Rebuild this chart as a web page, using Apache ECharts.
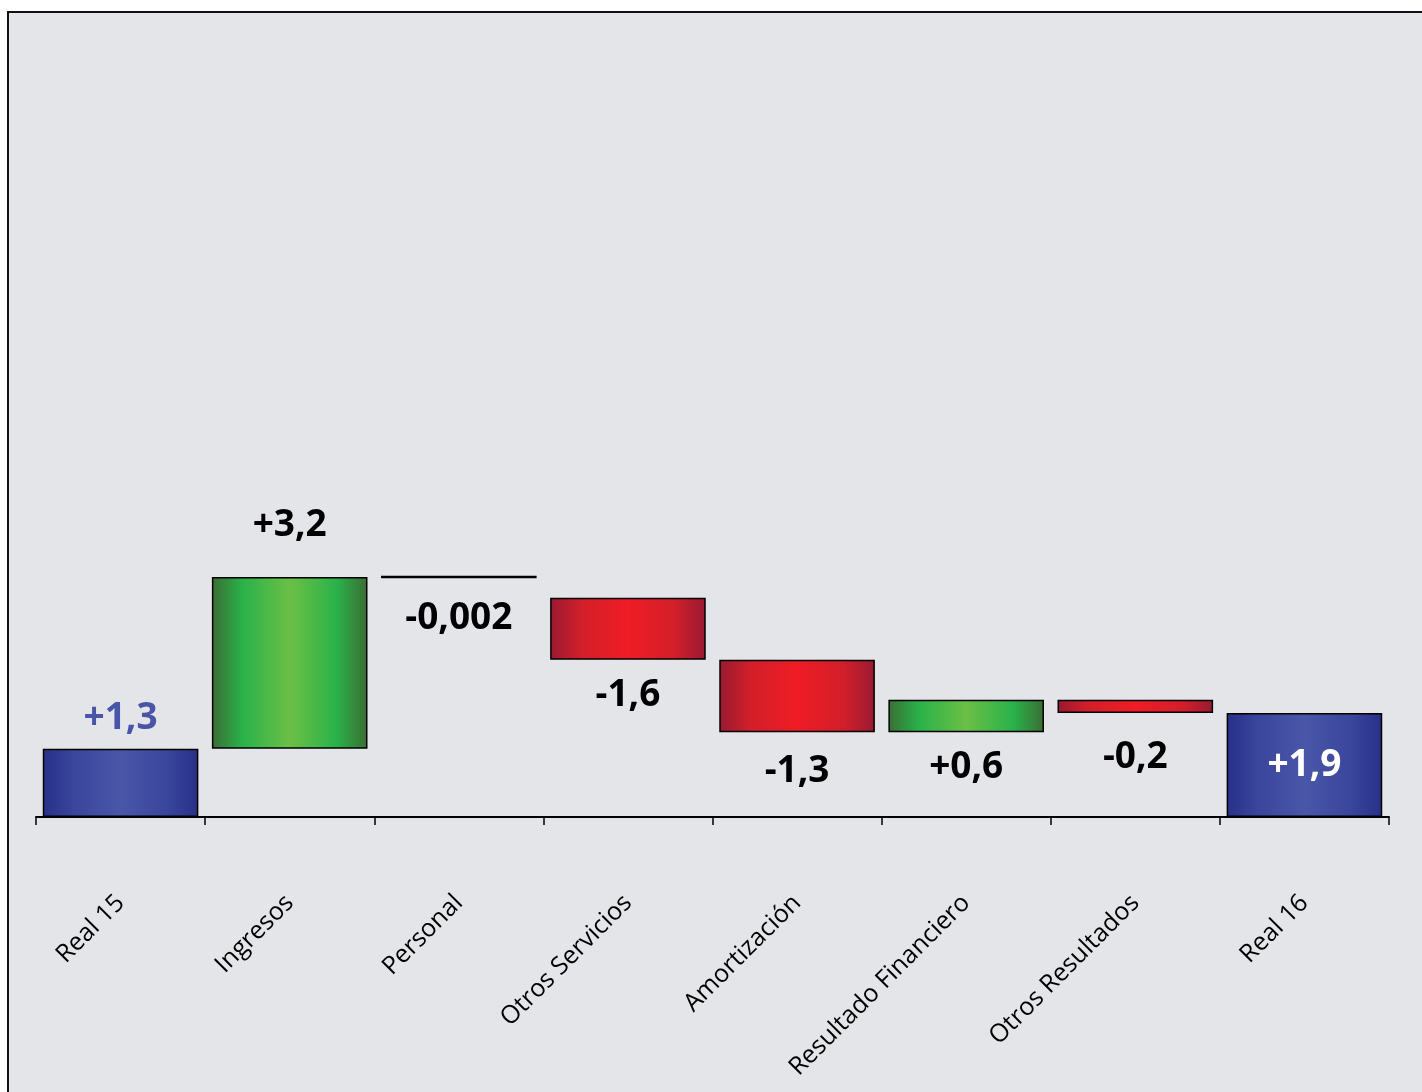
<!DOCTYPE html>
<html><head><meta charset="utf-8">
<script src="https://cdn.jsdelivr.net/npm/echarts@6/dist/echarts.min.js"></script>
<style>html,body{margin:0;padding:0;background:#fff}#c{width:1422px;height:1092px}</style>
</head><body><div id="c"></div>
<script>
var categories = ['Real 15','Ingresos','Personal','Otros Servicios','Amortización','Resultado Financiero','Otros Resultados','Real 16'];
var barLow  = [0,    1.28, 4.475, 2.95, 1.59, 1.59, 1.95, 0];
var barHigh = [1.28, 4.50, 4.525, 4.11, 2.95, 2.20, 2.20, 1.95];
var valueLabels = ['+1,3','+3,2','-0,002','-1,6','-1,3','+0,6','-0,2','+1,9'];
var kinds = ['total','up','line','down','down','up','down','total'];

function grad(edge, mid, center){
  return {type:'linear',x:0,y:0,x2:1,y2:0,colorStops:[
    {offset:0,color:edge},{offset:0.2,color:mid},{offset:0.5,color:center},{offset:0.8,color:mid},{offset:1,color:edge}]};
}
var styles = {
  total:{color:grad('#283088','#3a459c','#4a57a8')},
  up:{color:grad('#3a6e34','#2ab24a','#6cbf46')},
  down:{color:grad('#981a32','#d21f2a','#ee1c25')},
  line:{color:'#000'}
};
var labelCfg = [
  {position:'top',distance:12,color:'#4a55a8'},
  {position:'top',distance:33,color:'#000'},
  {position:'bottom',distance:22,color:'#000'},
  {position:'bottom',distance:17,color:'#000'},
  {position:'bottom',distance:21,color:'#000'},
  {position:'bottom',distance:17,color:'#000'},
  {position:'bottom',distance:26,color:'#000'},
  {position:'inside',distance:0,color:'#fff'}
];

var baseData = barLow.slice();
var valData = categories.map(function(c,i){
  var s = styles[kinds[i]];
  return {
    value: +(barHigh[i]-barLow[i]).toFixed(4),
    itemStyle:{color:s.color,borderColor:'#000',borderWidth:kinds[i]==='line'?0:1.5},
    label:{show:true,formatter:valueLabels[i],position:labelCfg[i].position,distance:labelCfg[i].distance,color:labelCfg[i].color}
  };
});

var chart = echarts.init(document.getElementById('c'));
chart.setOption({
  backgroundColor:'#fff',
  animation:false,
  graphic:[{type:'rect',z:-10,shape:{x:8,y:12,width:1430,height:1100},style:{fill:'#e3e5e9',stroke:'#111',lineWidth:2}}],
  grid:{left:36,right:33,top:17,bottom:275,containLabel:false},
  xAxis:{type:'category',data:categories,
    axisLine:{lineStyle:{color:'#000',width:2}},
    axisTick:{show:true,length:8,lineStyle:{color:'#000',width:1.5}},
    axisLabel:{interval:0,rotate:45,margin:82,fontFamily:'Open Sans',fontSize:25,color:'#000'}},
  yAxis:{type:'value',min:0,max:15,show:false,splitLine:{show:false}},
  series:[
    {type:'bar',stack:'w',data:baseData,itemStyle:{color:'transparent'},barWidth:'92%',silent:true},
    {type:'bar',stack:'w',data:valData,barWidth:'92%',
      label:{fontFamily:'Open Sans',fontWeight:'bold',fontSize:37}}
  ]
});
</script></body></html>
